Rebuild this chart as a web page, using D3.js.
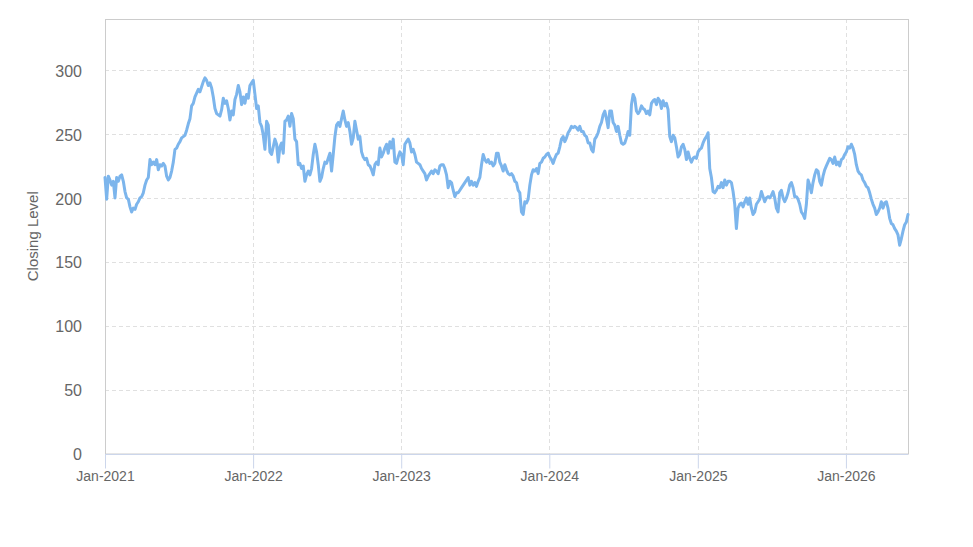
<!DOCTYPE html>
<html><head><meta charset="utf-8">
<script src="https://cdn.jsdelivr.net/npm/d3@7/dist/d3.min.js"></script>
<style>
html,body{margin:0;padding:0;background:#fff;}
svg{display:block;font-family:"Liberation Sans",Arial,Helvetica,sans-serif;}
</style>
</head><body>
<svg id="chart" width="973" height="547"></svg>
<script>
// ---- data ----
const axisTitle = "Closing Level";
const firstDate = "2021-01-01";
const lastDate = "2026-06-03";
const yTicks = [0, 50, 100, 150, 200, 250, 300];
const yMax = 340;
const xTickDates = ["2021-01-01", "2022-01-01", "2023-01-01", "2024-01-01", "2025-01-01", "2026-01-01"];
const xTickLabels = ["Jan-2021", "Jan-2022", "Jan-2023", "Jan-2024", "Jan-2025", "Jan-2026"];

// closing levels, evenly sampled from first to last date
const closesA = [
216,199,217,214,210,213,200,216,213,217,
218,213,205,200,199,193,189,192,191,195,
197,200,201,204,210,214,216,230,226,228,
226,230,222,226,225,227,225,217,214,216,
221,228,238,239,242,244,247,248,249,253,
258,262,272,274,279,282,285,283,287,291,
294,292,288,290,286,279,270,266,265,264,
269,278,274,276,270,261,268,265,277,281,
288,283,273,279,274,281,278,288,290,292,
281,270,272,259,256,249,238,260,257,236,
234,240,246,242,228,240,243,235,260,261,
264,256,266,262,246,244,226,227,223,225,
213,218,221,218,223,234,242,236,226,213,
216,223,228,227,231,235,221,234,248,257,
259,256,262,268,261,256,259,252,242,247,
260,253,246,248,236,232,230,231,226,225,
222,218,226];
const closesB = [
228,226,239,232,235,239,242,235,244,239,
246,228,227,232,236,234,226,242,244,246,
243,236,238,234,228,227,226,223,221,219,
214,217,219,221,219,222,221,219,225,226,
226,223,218,208,213,212,206,201,204,204,
206,208,210,212,214,216,210,213,210,212,
209,213,216,226,234,230,228,230,227,228,
225,227,235,235,228,225,221,226,222,219,
218,219,217,213,212,206,204,189,187,197,
196,199,210,218,222,221,223,219,227,228,
231,232,234,235,232,230,227,231,234,235,
240,246,248,244,247,251,253,256,255,256,
255,253,256,252,252,249,248,243,243,238,
236,246,248,251,256,259,265,268,262,255,
268,268,259,257,252,256,249,243,242,243,
247,252,249,273,281,278,268,266];
const closesC = [
268,272,270,269,266,268,265,274,276,277,
273,278,276,270,276,272,274,269,248,244,
249,247,240,232,234,240,242,238,230,236,
231,228,231,232,231,236,238,239,243,246,
248,251,223,216,205,204,206,209,208,212,
208,214,210,213,213,212,205,195,176,192,
195,196,193,197,200,195,200,192,187,189,
195,197,199,205,201,197,200,201,200,202,
205,200,192,189,204,206,200,197,200,204,
210,212,208,201,201,199,195,189,187,184,
195,214,210,204,212,218,222,221,213,210,
217,222,225,228,231,230,227,232,226,228,
225,230,231,234,236,240,239,242,239,234,
226,221,219,218,214,212,209,208,204,199,
195,192,187,189,192,197,192,196,197,192,
184,180,179,176,174,171,163,168,174,179,
181,187];

// ---- chart ----
(function () {
const parse = d3.timeParse("%Y-%m-%d");
const closes = closesA.concat(closesB, closesC);
const t0 = parse(firstDate), t1 = parse(lastDate);
const n = closes.length;
const data = closes.map((v, i) => ({
  date: new Date(+t0 + (t1 - t0) * i / (n - 1)),
  value: v
}));

const svg = d3.select("#chart");
const pLeft = 105, pRight = 908, pTop = 19, pBottom = 453.5;

const x = d3.scaleTime().domain([t0, t1]).range([pLeft, pRight]);
const y = d3.scaleLinear().domain([0, yMax]).range([pBottom, pTop]);

// horizontal grid
svg.append("g").selectAll("line").data(yTicks.filter(d => d > 0)).join("line")
  .attr("x1", pLeft).attr("x2", pRight)
  .attr("y1", d => Math.round(y(d)) + 0.5).attr("y2", d => Math.round(y(d)) + 0.5)
  .attr("stroke", "#e0e0e0").attr("stroke-width", 1).attr("stroke-dasharray", "4,3");

// vertical grid
const xt = xTickDates.map(parse);
svg.append("g").selectAll("line").data(xt.slice(1)).join("line")
  .attr("x1", d => Math.round(x(d)) + 0.5).attr("x2", d => Math.round(x(d)) + 0.5)
  .attr("y1", pTop).attr("y2", pBottom)
  .attr("stroke", "#e0e0e0").attr("stroke-width", 1).attr("stroke-dasharray", "4,3");

// plot border
svg.append("rect")
  .attr("x", pLeft + 0.5).attr("y", pTop + 0.5)
  .attr("width", pRight - pLeft).attr("height", pBottom - pTop)
  .attr("fill", "none").attr("stroke", "#cccccc").attr("stroke-width", 1);

// x axis
const xAxis = d3.axisBottom(x).tickValues(xt)
  .tickFormat((d, i) => xTickLabels[i]).tickSize(14).tickPadding(3);
const gx = svg.append("g").attr("transform", `translate(0,${Math.round(pBottom) + 0.5})`).call(xAxis);
gx.select(".domain").attr("stroke", "#ccd6eb").attr("d", `M${pLeft},0H${pRight}`);
gx.selectAll(".tick line").attr("stroke", "#ccd6eb");
gx.selectAll(".tick text").attr("fill", "#666666").style("font-size", "14px")
  .attr("font-family", "Liberation Sans, Arial, sans-serif");

// y axis labels
const yAxis = d3.axisLeft(y).tickValues(yTicks).tickSize(0).tickPadding(23);
const gy = svg.append("g").attr("transform", `translate(${pLeft},1)`).call(yAxis);
gy.select(".domain").remove();
gy.selectAll(".tick text").attr("fill", "#666666").style("font-size", "16px")
  .attr("font-family", "Liberation Sans, Arial, sans-serif");

// axis title
svg.append("text")
  .attr("transform", `translate(38,${(pTop + pBottom) / 2}) rotate(-90)`)
  .attr("text-anchor", "middle")
  .attr("fill", "#666666").style("font-size", "15px")
  .text(axisTitle);

// line
const line = d3.line().x(d => x(d.date)).y(d => y(d.value)).curve(d3.curveLinear);
svg.append("path").datum(data)
  .attr("d", line)
  .attr("fill", "none")
  .attr("stroke", "#7cb5ec")
  .attr("stroke-width", 3)
  .attr("stroke-linejoin", "round")
  .attr("stroke-linecap", "round");
})();
</script>
</body></html>
